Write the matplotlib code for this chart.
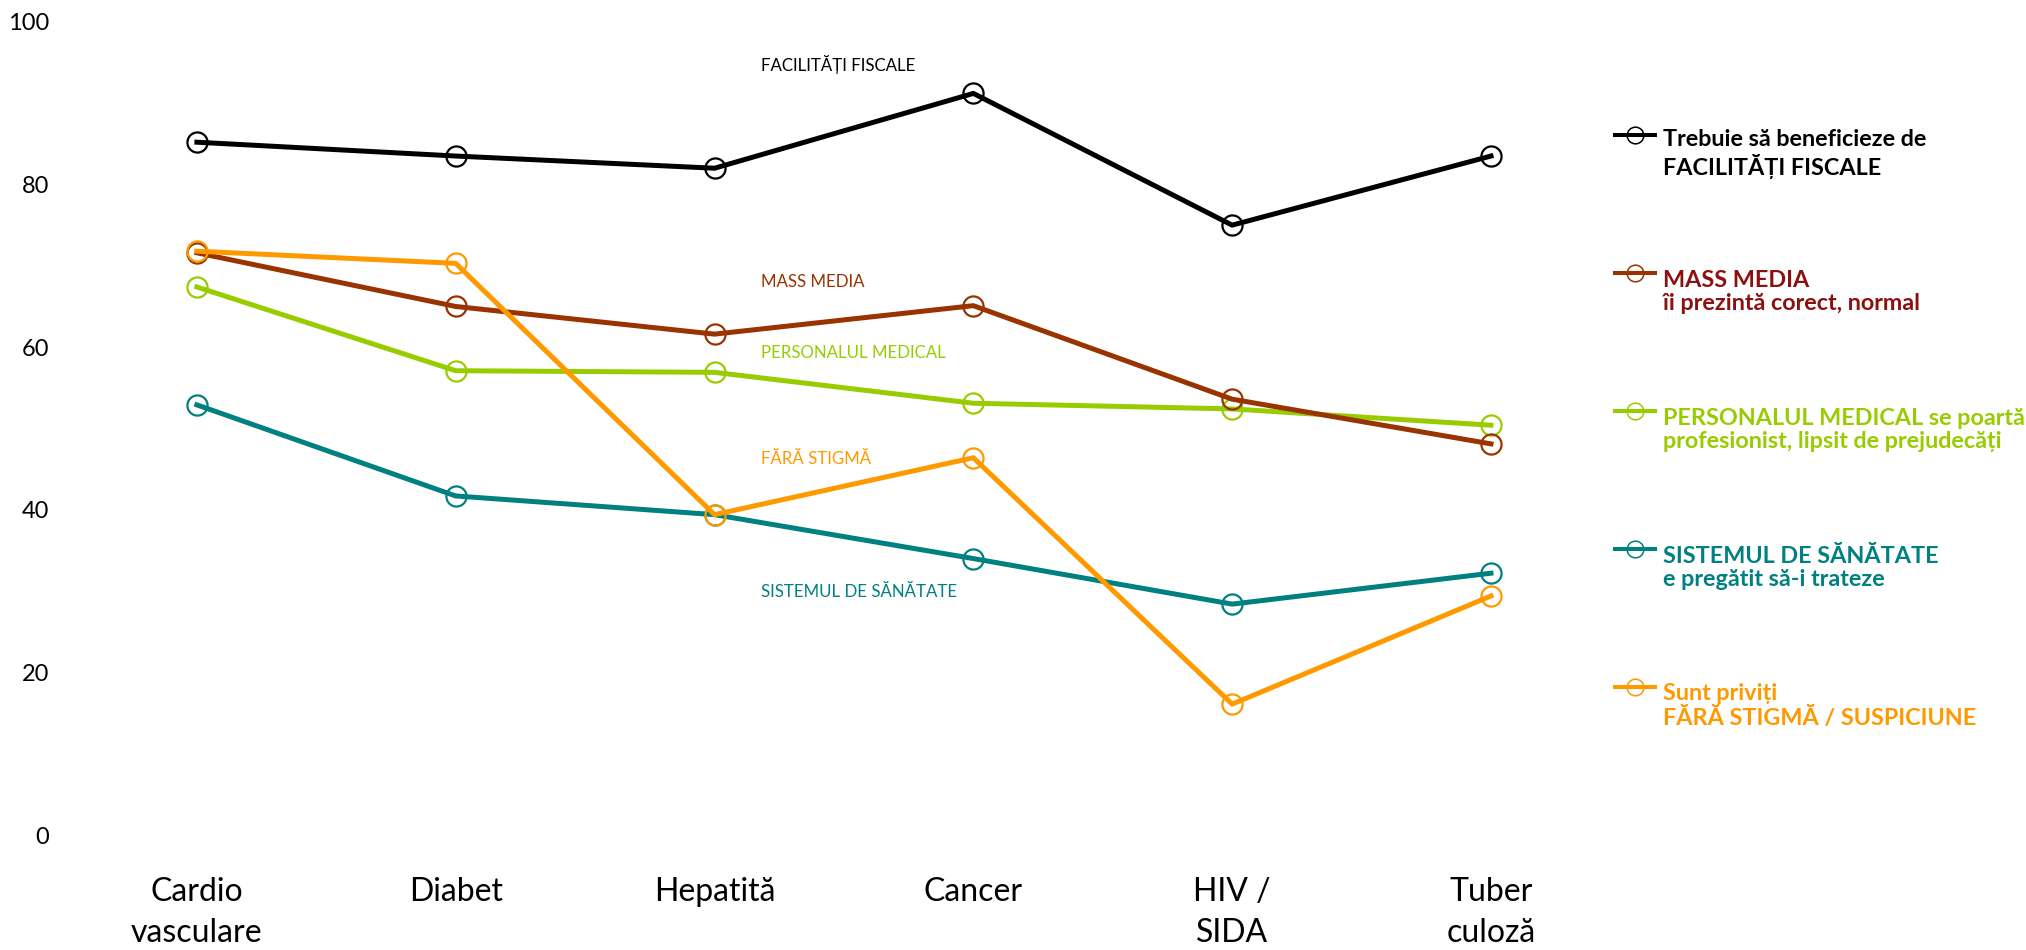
import matplotlib
matplotlib.use("Agg")
import matplotlib.pyplot as plt
from matplotlib.lines import Line2D

plt.rcParams['font.family'] = ['Lato', 'DejaVu Sans']

# Categories and survey percentages
categories = ['Cardio\nvasculare', 'Diabet', 'Hepatită', 'Cancer', 'HIV /\nSIDA', 'Tuber\nculoză']
facilitati_fiscale = [85.2, 83.5, 82.0, 91.2, 75.0, 83.5]
mass_media = [71.6, 65.0, 61.6, 65.1, 53.6, 48.1]
personalul_medical = [67.4, 57.1, 56.9, 53.1, 52.4, 50.4]
sistemul_sanatate = [52.9, 41.7, 39.4, 34.0, 28.4, 32.2]
fara_stigma = [71.8, 70.3, 39.4, 46.4, 16.1, 29.4]

legend_labels = [
    'Trebuie să beneficieze de\nFACILITĂȚI FISCALE',
    'MASS MEDIA\nîi prezintă corect, normal',
    'PERSONALUL MEDICAL se poartă\nprofesionist, lipsit de prejudecăți',
    'SISTEMUL DE SĂNĂTATE\ne pregătit să-i trateze',
    'Sunt priviți\nFĂRĂ STIGMĂ / SUSPICIUNE',
]
# short labels written next to the lines, same order as the series
inline_labels = ['FACILITĂȚI FISCALE', 'MASS MEDIA', 'PERSONALUL MEDICAL',
                 'SISTEMUL DE SĂNĂTATE', 'FĂRĂ STIGMĂ']
inline_y = [94.7, 68.0, 59.3, 29.9, 46.2]

series = [facilitati_fiscale, mass_media, personalul_medical, sistemul_sanatate, fara_stigma]
line_colors = ['#000000', '#993300', '#99CC00', '#008080', '#FF9900']
legend_colors = ['#000000', '#8B1111', '#99CC00', '#008080', '#FF9900']
z_order = [5, 4, 3, 2, 6]

fig = plt.figure(figsize=(20.26, 9.5), dpi=100)
ax = fig.add_axes([0.0333, 0.121, 0.7665, 0.856])

x = list(range(len(categories)))
for vals, col, z in zip(series, line_colors, z_order):
    ax.plot(x, vals, color=col, linewidth=3.6, marker='o', markersize=14.5,
            markerfacecolor='none', markeredgecolor=col, markeredgewidth=1.6,
            zorder=z)

for txt, yv, col in zip(inline_labels, inline_y, line_colors):
    ax.text(2.18, yv, txt, color=col, fontsize=12.2, va='center', ha='left')

ax.set_xlim(-0.5, 5.5)
ax.set_ylim(0, 100)
ax.set_yticks([0, 20, 40, 60, 80, 100])
ax.set_xticks(x)
ax.set_xticklabels(categories, fontsize=23, linespacing=1.45)
ax.tick_params(axis='y', labelsize=17, length=0, pad=13)
ax.tick_params(axis='x', length=0, pad=30)
for spine in ax.spines.values():
    spine.set_visible(False)

# legend drawn by hand so the marker sits next to the first text line
W, H = 2026, 950
for i, (lab, lc, tc) in enumerate(zip(legend_labels, line_colors, legend_colors)):
    yc = 1 - (135 + 138 * i) / H
    fig.add_artist(Line2D([1615 / W, 1655 / W], [yc, yc], color=lc, linewidth=2.9,
                          transform=fig.transFigure))
    fig.add_artist(Line2D([1635 / W], [yc], color=lc, marker='o', markersize=12,
                          markerfacecolor='none', markeredgewidth=1.1,
                          transform=fig.transFigure))
    fig.text(1663 / W, yc - 19 / H, lab, color=tc, fontsize=16.8, fontweight='bold',
             va='center', ha='left', linespacing=1.15)

fig.savefig('out.png', dpi=100, facecolor='white')
